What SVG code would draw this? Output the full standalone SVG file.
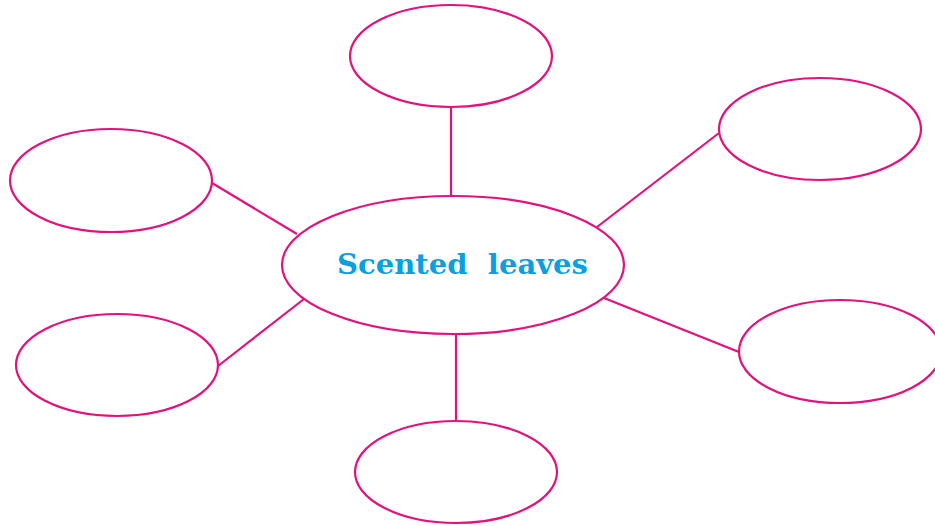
<svg xmlns="http://www.w3.org/2000/svg" width="935" height="526" viewBox="0 0 935 526">
<style>
.n{fill:#fff;stroke:#e4117d;stroke-width:2.2}
.c line{stroke:#e4117d;stroke-width:2.2}
.t{font-family:"DejaVu Serif",serif;font-weight:bold;font-size:28px;fill:#0aa0df}
</style>
<rect width="935" height="526" fill="#fff"/>
<g class="c" id="connectors">
<line x1="451" y1="107" x2="451" y2="197"/>
<line x1="719" y1="133" x2="597" y2="227"/>
<line x1="212" y1="183" x2="297" y2="234"/>
<line x1="218" y1="366" x2="304" y2="299"/>
<line x1="456" y1="335" x2="456" y2="421"/>
<line x1="739" y1="352" x2="604" y2="298"/>
</g>
<g id="center"><ellipse class="n" cx="453" cy="265" rx="171" ry="69"/>
<text class="t" x="337" y="274" textLength="251" lengthAdjust="spacingAndGlyphs" xml:space="preserve">Scented  leaves</text></g>
<g id="top"><ellipse class="n" cx="451" cy="56" rx="101" ry="51"/></g>
<g id="topright"><ellipse class="n" cx="820" cy="129" rx="101" ry="51"/></g>
<g id="lefttop"><ellipse class="n" cx="111" cy="180.5" rx="101" ry="51.5"/></g>
<g id="leftbottom"><ellipse class="n" cx="117" cy="365" rx="101" ry="51"/></g>
<g id="bottom"><ellipse class="n" cx="456" cy="472" rx="101" ry="51"/></g>
<g id="right"><ellipse class="n" cx="840" cy="351.5" rx="101" ry="51.5"/></g>
</svg>
